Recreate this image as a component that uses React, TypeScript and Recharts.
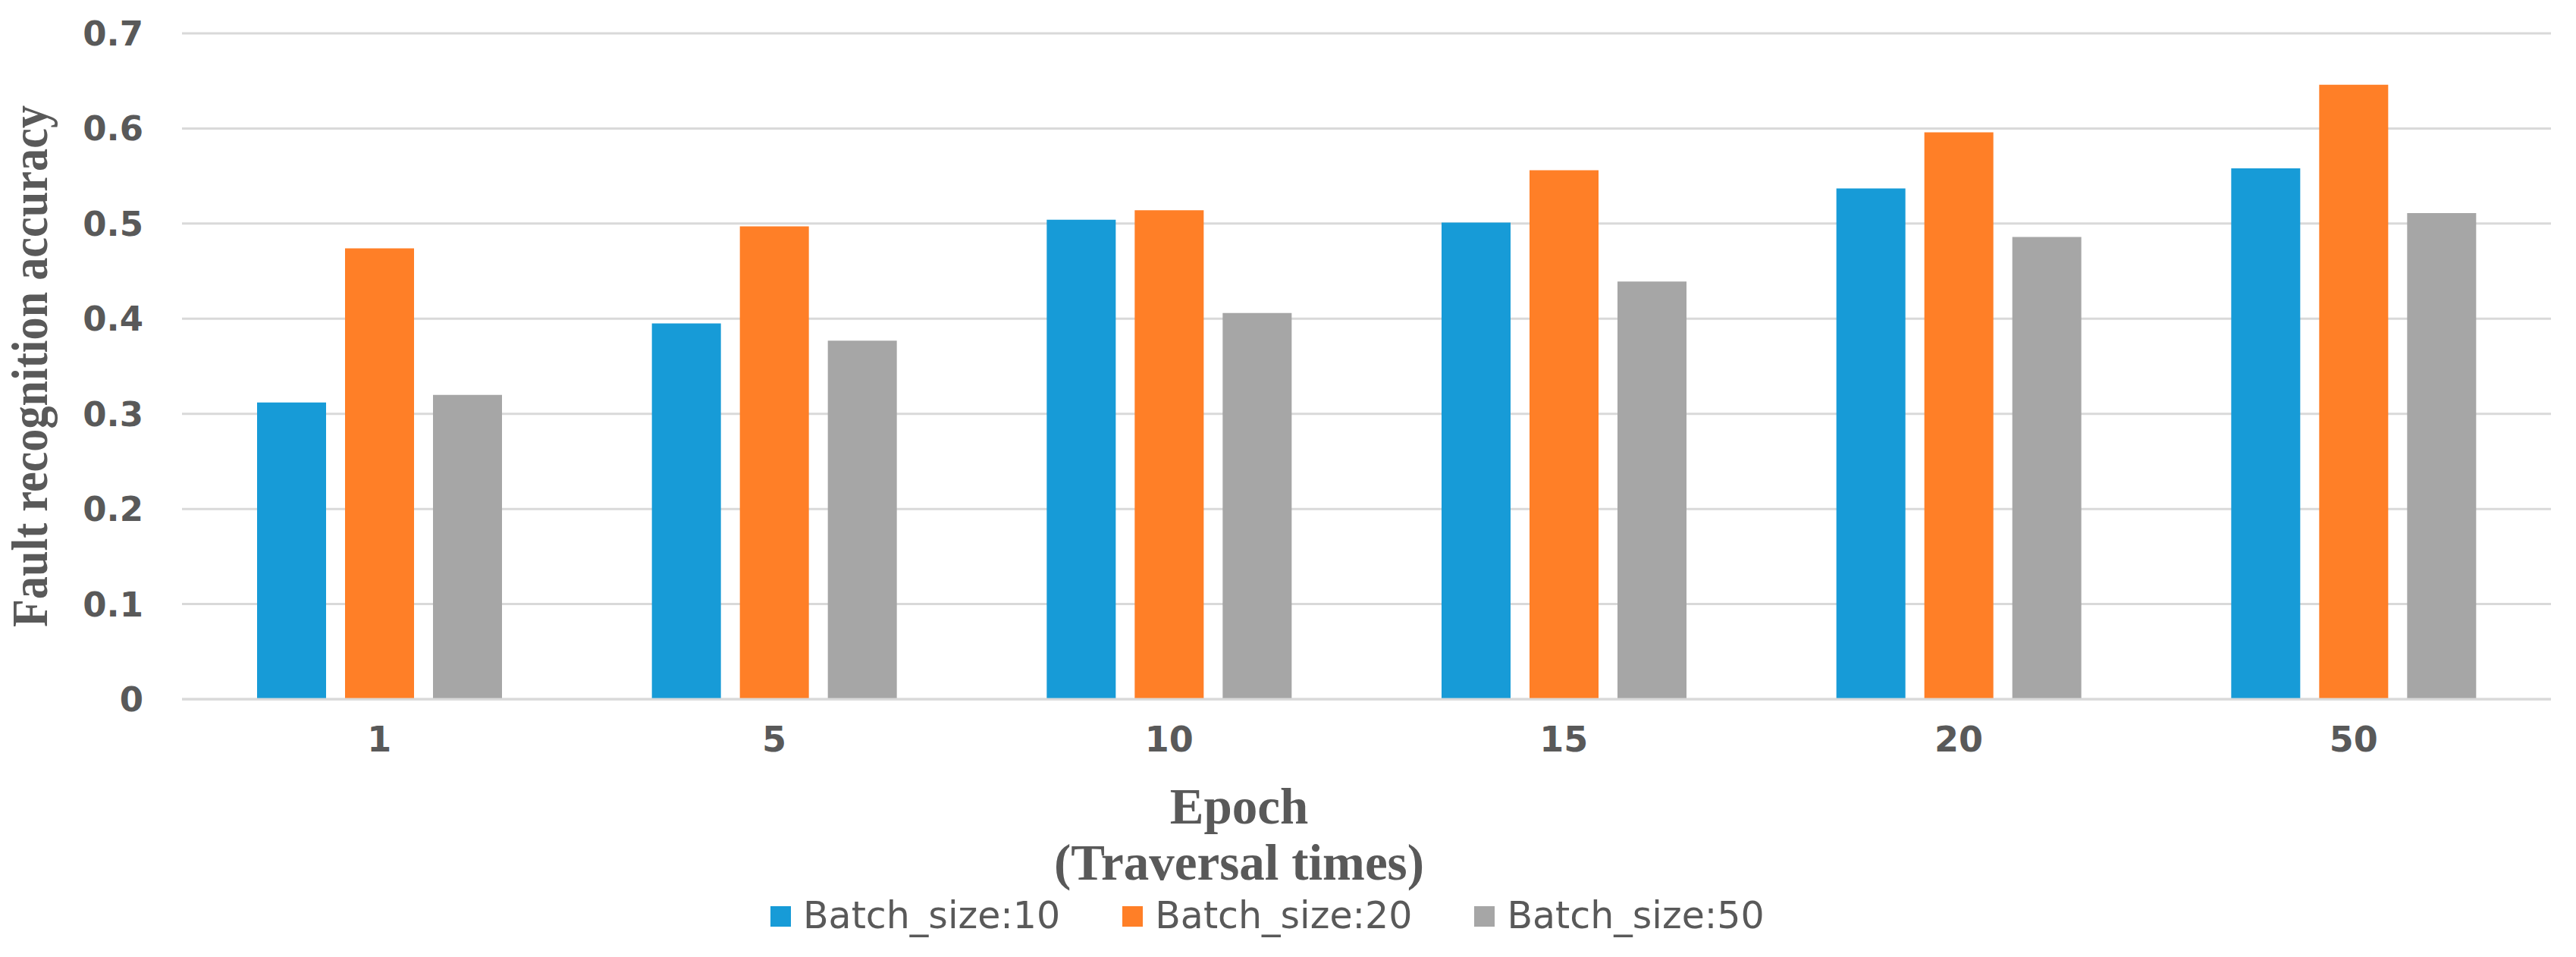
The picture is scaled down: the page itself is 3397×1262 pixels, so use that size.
import React from "react";
import { BarChart, Bar, XAxis, YAxis, CartesianGrid, Legend, Label } from "recharts";

const epochs = ["1", "5", "10", "15", "20", "50"];
const batch10 = [0.312, 0.395, 0.504, 0.501, 0.537, 0.558];
const batch20 = [0.474, 0.497, 0.514, 0.556, 0.596, 0.646];
const batch50 = [0.320, 0.377, 0.406, 0.439, 0.486, 0.511];
const yTicks = [0, 0.1, 0.2, 0.3, 0.4, 0.5, 0.6, 0.7];
const seriesNames = ["Batch_size:10", "Batch_size:20", "Batch_size:50"];
const seriesColors = ["#179BD7", "#FF7F27", "#A6A6A6"];
const xTitleLines = ["Epoch", "(Traversal times)"];
const yTitle = "Fault recognition accuracy";

const data = epochs.map((e, i) => ({
  epoch: e,
  b10: batch10[i],
  b20: batch20[i],
  b50: batch50[i],
}));

const TEXT = "#595959";
const GRID = "#D9D9D9";

const XTitle = (props: any) => {
  const vb = props.viewBox || { x: 0, y: 0, width: 0, height: 0 };
  const cx = vb.x + vb.width / 2 - 168;
  return (
    <g>
      <text x={cx} y={vb.y + 164} textAnchor="middle" fill={TEXT}
        style={{ fontFamily: "'Liberation Serif', 'Times New Roman', serif", fontWeight: "bold", fontSize: 67 }}>
        {xTitleLines[0]}
      </text>
      <text x={cx} y={vb.y + 238} textAnchor="middle" fill={TEXT}
        style={{ fontFamily: "'Liberation Serif', 'Times New Roman', serif", fontWeight: "bold", fontSize: 67 }}>
        {xTitleLines[1]}
      </text>
    </g>
  );
};

const YTitle = (props: any) => {
  const vb = props.viewBox || { x: 0, y: 0, width: 0, height: 0 };
  const x = vb.x + 62;
  const y = vb.y + vb.height / 2;
  return (
    <text x={x} y={y} textAnchor="middle" fill={TEXT}
      transform={`rotate(-90, ${x}, ${y})`}
      textLength={688} lengthAdjust="spacingAndGlyphs"
      style={{ fontFamily: "'Liberation Serif', 'Times New Roman', serif", fontWeight: "bold", fontSize: 68 }}>
      {yTitle}
    </text>
  );
};

const LegendContent = (props: any) => {
  const payload = props.payload || [];
  return (
    <div style={{ height: 100, display: "flex", alignItems: "center", paddingLeft: 1016, paddingBottom: 8, boxSizing: "border-box" }}>
      {payload.map((p: any, i: number) => (
        <div key={i} style={{ display: "flex", alignItems: "center", marginRight: 82 }}>
          <div style={{ width: 27, height: 27, background: p.color, marginRight: 16 }} />
          <span style={{ fontFamily: "'DejaVu Sans', sans-serif", fontSize: 49, color: TEXT, lineHeight: "60px" }}>{p.value}</span>
        </div>
      ))}
    </div>
  );
};

export default function App() {
  return (
    <div style={{ position: "absolute", left: 0, top: 0, width: 3397, height: 1262, background: "#fff" }}>
      <BarChart width={3397} height={1262} data={data}
        margin={{ top: 44, right: 33, bottom: 0, left: 0 }}
        barSize={91} barGap={25}>
        <CartesianGrid vertical={false} stroke={GRID} strokeWidth={3} />
        <XAxis dataKey="epoch" height={240} interval={0} tickSize={0} tickMargin={36}
          tickLine={false} axisLine={{ stroke: GRID, strokeWidth: 3 }}
          tick={{ fill: TEXT, fontSize: 46, fontWeight: "bold", fontFamily: "'DejaVu Sans', sans-serif" }}>
          <Label content={XTitle} />
        </XAxis>
        <YAxis width={240} domain={[0, 0.7]} ticks={yTicks} interval={0} tickSize={0} tickMargin={51}
          axisLine={false} tickLine={false}
          tickFormatter={(v: number) => (v === 0 ? "0" : v.toFixed(1))}
          tick={{ fill: TEXT, fontSize: 45, fontWeight: "bold", fontFamily: "'DejaVu Sans', sans-serif" }}>
          <Label content={YTitle} />
        </YAxis>
        <Legend verticalAlign="bottom" height={100} content={LegendContent}
          wrapperStyle={{ left: 0, bottom: 0, width: 3397 }} />
        <Bar dataKey="b10" name={seriesNames[0]} fill={seriesColors[0]} isAnimationActive={false} />
        <Bar dataKey="b20" name={seriesNames[1]} fill={seriesColors[1]} isAnimationActive={false} />
        <Bar dataKey="b50" name={seriesNames[2]} fill={seriesColors[2]} isAnimationActive={false} />
      </BarChart>
    </div>
  );
}
